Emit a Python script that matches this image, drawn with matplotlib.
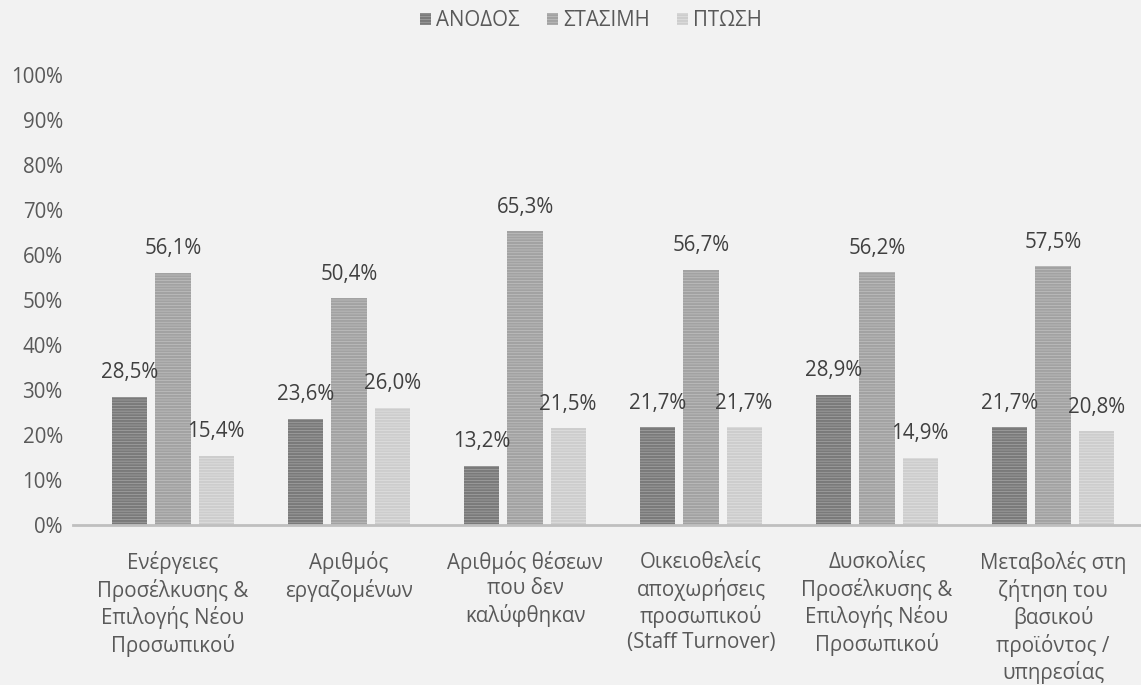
import numpy as np
import matplotlib.pyplot as plt

plt.rcParams['font.family'] = ['Open Sans', 'DejaVu Sans']
plt.rcParams['hatch.linewidth'] = 1.6

categories = ['Ενέργειες\nΠροσέλκυσης &\nΕπιλογής Νέου\nΠροσωπικού',
              'Αριθμός\nεργαζομένων',
              'Αριθμός θέσεων\nπου δεν\nκαλύφθηκαν',
              'Οικειοθελείς\nαποχωρήσεις\nπροσωπικού\n(Staff Turnover)',
              'Δυσκολίες\nΠροσέλκυσης &\nΕπιλογής Νέου\nΠροσωπικού',
              'Μεταβολές στη\nζήτηση του\nβασικού\nπροϊόντος /\nυπηρεσίας']
anodos = [28.5, 23.6, 13.2, 21.7, 28.9, 21.7]
stasimi = [56.1, 50.4, 65.3, 56.7, 56.2, 57.5]
ptosi = [15.4, 26.0, 21.5, 21.7, 14.9, 20.8]
series_names = ['ΑΝΟΔΟΣ', 'ΣΤΑΣΙΜΗ', 'ΠΤΩΣΗ']

bg = '#f2f2f2'
fs = 14.8
fig = plt.figure(figsize=(11.41, 6.85), dpi=100, facecolor=bg)
ax = fig.add_axes([0.0745, 0.2336, 0.9255, 0.657], facecolor=bg)

x = np.arange(len(categories))
w = 0.2
step = 0.245
styles = [('#b0b0b0', '#7a7a7a'), ('#c8c8c8', '#a2a2a2'), ('#e6e6e6', '#cdcdcd')]
for i, (vals, name, (fc, hc)) in enumerate(zip([anodos, stasimi, ptosi], series_names, styles)):
    bars = ax.bar(x + (i - 1) * step, vals, w, facecolor=fc, edgecolor=hc,
                  hatch='------', linewidth=0, label=name)
    for b, v in zip(bars, vals):
        ax.text(b.get_x() + b.get_width() / 2, v + 3.0, f'{v:.1f}%'.replace('.', ','),
                ha='center', va='bottom', fontsize=fs, color='#404040')

ax.set_xlim(-0.5, len(categories) - 0.5)
ax.set_ylim(0, 100)
ax.set_yticks(np.arange(0, 101, 10))
ax.set_yticklabels([f'{t}%' for t in range(0, 101, 10)])
ax.set_xticks(x)
ax.set_xticklabels(categories, linespacing=1.25)
ax.tick_params(axis='both', length=0, labelsize=fs, labelcolor='#595959')
ax.tick_params(axis='y', pad=16)
ax.tick_params(axis='x', pad=19)
for s in ['top', 'right', 'left']:
    ax.spines[s].set_visible(False)
ax.spines['bottom'].set_color('#bfbfbf')
ax.spines['bottom'].set_linewidth(2)
ax.spines['bottom'].set_bounds(-0.57, len(categories) - 0.5)
ax.spines['bottom'].set_clip_on(False)

fig.legend(loc='upper center', bbox_to_anchor=(0.518, 1.012), ncol=3, frameon=False,
           fontsize=fs, labelcolor='#595959', handlelength=0.55, handleheight=0.55,
           handletextpad=0.25, columnspacing=1.3)

fig.savefig('out.png', dpi=100, facecolor=bg)
